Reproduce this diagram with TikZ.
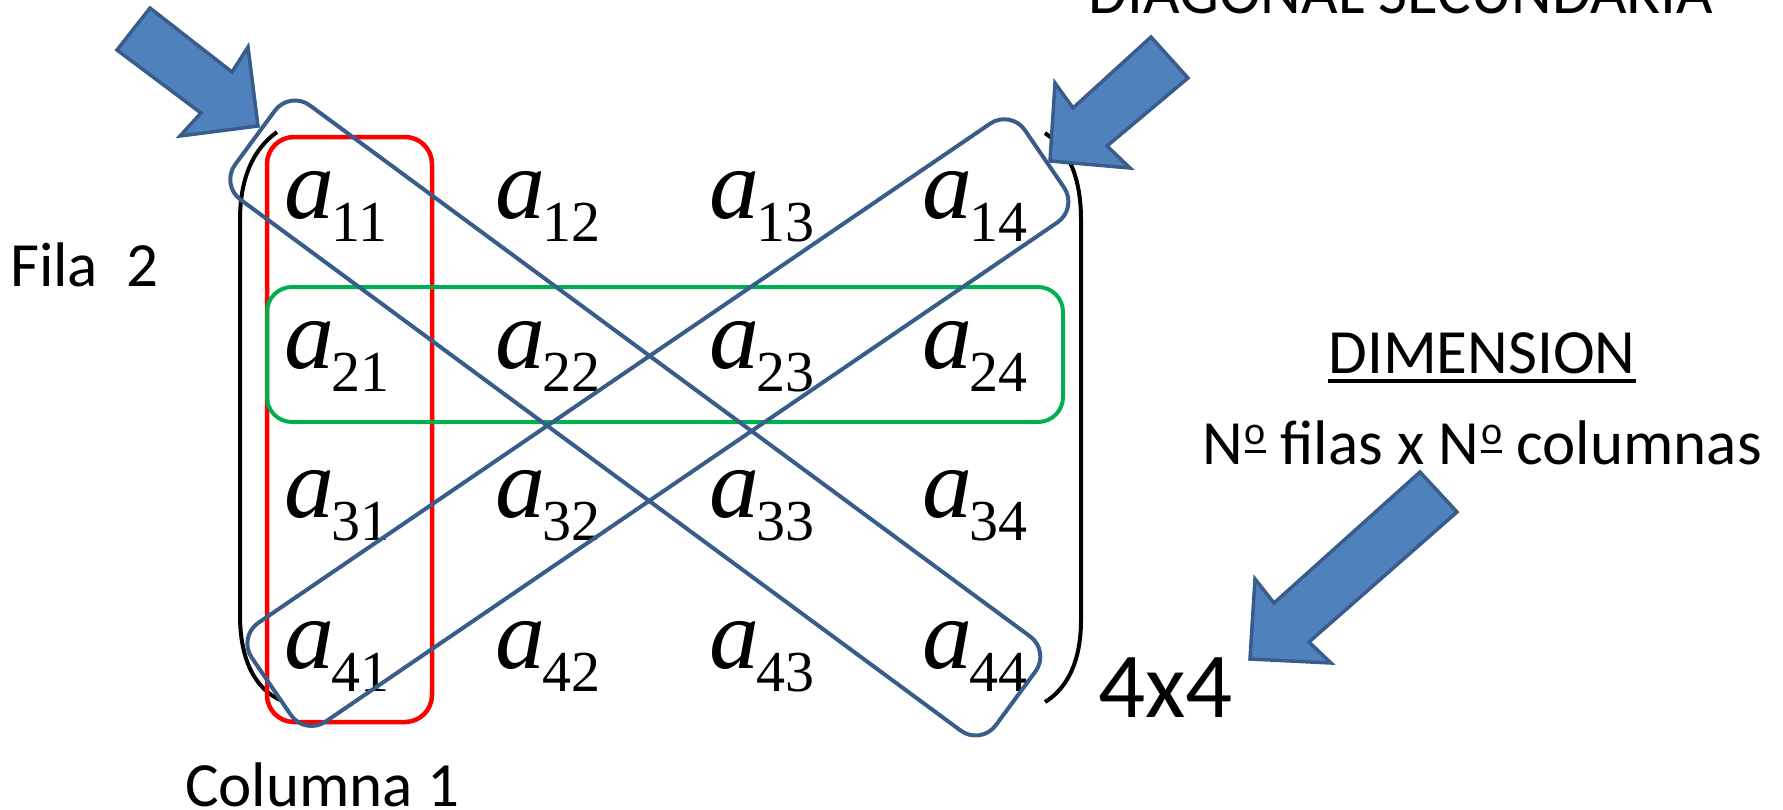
\documentclass[tikz,border=0pt]{standalone}
\usepackage{fontspec}
\newfontfamily\sansf{Carlito}
\newfontfamily\mxserif{Liberation Serif}
\definecolor{arrowfill}{HTML}{4F81BD}
\definecolor{arrowline}{HTML}{385D8A}
\definecolor{boxred}{HTML}{FF0000}
\definecolor{boxgreen}{HTML}{00B050}
\newcommand\mentry[2]{{\mxserif\fontsize{100}{100}\selectfont\itshape a}\kern-3pt\raisebox{-23pt}{\mxserif\fontsize{58}{58}\selectfont #1#2}}
\newcommand\ordm{\kern2pt\raisebox{11pt}{\vbox{\hbox{\sansf\fontsize{40}{40}\selectfont o}\kern5pt\hrule height 3.5pt}}}
\begin{document}
\begin{tikzpicture}[x=1pt,y=-1pt,
  entry/.style={anchor=base west,inner sep=0pt},
  sans/.style={inner sep=0pt,font=\sansf\fontsize{63}{63}\selectfont},
  bigsans/.style={inner sep=0pt,font=\sansf\fontsize{93}{93}\selectfont},
  paren/.style={line width=4pt,black},
  redframe/.style={draw=boxred,line width=4.5pt,rounded corners=27pt,inner sep=0pt,minimum width=165pt,minimum height=585pt},
  greenframe/.style={draw=boxgreen,line width=4pt,rounded corners=25pt,inner sep=0pt,minimum width=796pt,minimum height=135pt},
  diagframe/.style={draw=arrowline,line width=4pt,rounded corners=25pt,inner sep=0pt},
  blockarrow/.style={fill=arrowfill,draw=arrowline,line width=3.5pt,line join=miter}]
\useasboundingbox (0,0) rectangle (1783,809);
% parentheses
\draw[paren] (277,132) .. controls (252,150) and (240,180) .. (240,220) -- (240,615) .. controls (240,660) and (255,688) .. (280,700);
\draw[paren] (1045,133) .. controls (1070,150) and (1081,180) .. (1081,220) -- (1081,620) .. controls (1081,660) and (1068,688) .. (1045,702);
% entries
\node[entry] (a11) at (284,218) {\mentry{1}{1}};
\node[entry] (a12) at (495,218) {\mentry{1}{2}};
\node[entry] (a13) at (709,218) {\mentry{1}{3}};
\node[entry] (a14) at (922,218) {\mentry{1}{4}};
\node[entry] (a21) at (284,368) {\mentry{2}{1}};
\node[entry] (a22) at (495,368) {\mentry{2}{2}};
\node[entry] (a23) at (709,368) {\mentry{2}{3}};
\node[entry] (a24) at (922,368) {\mentry{2}{4}};
\node[entry] (a31) at (284,517) {\mentry{3}{1}};
\node[entry] (a32) at (495,517) {\mentry{3}{2}};
\node[entry] (a33) at (709,517) {\mentry{3}{3}};
\node[entry] (a34) at (922,517) {\mentry{3}{4}};
\node[entry] (a41) at (284,668) {\mentry{4}{1}};
\node[entry] (a42) at (495,668) {\mentry{4}{2}};
\node[entry] (a43) at (709,668) {\mentry{4}{3}};
\node[entry] (a44) at (922,668) {\mentry{4}{4}};
% frames
\node[redframe] (col1box) at (349.5,429.5) {};
\node[greenframe] (row2box) at (665,354.5) {};
\node[diagframe,minimum width=945pt,minimum height=117pt,rotate=-36.4] (maindiag) at (635.3,418) {};
\node[diagframe,minimum width=936pt,minimum height=119.5pt,rotate=34.3] (secdiag) at (657.9,422.6) {};
% texts
\node[sans,anchor=base] (diag2) at (1401,13) {DIAGONAL SECUNDARIA};
\node[sans,anchor=base west] (fila) at (10,286) {Fila~~2};
\node[sans,anchor=base west] (col) at (185,806) {Columna 1};
\node[sans,anchor=base] (dim) at (1482,373) {DIMENSION};
\draw[line width=4pt] ([yshift=-8pt]dim.base west) -- ([yshift=-8pt]dim.base east);
\node[sans,anchor=base] (nf) at (1482,464) {N\ordm{} filas x N\ordm{} columnas};
\node[bigsans,anchor=base west] (four) at (1098,717) {4x4};
% block arrows
\draw[blockarrow] (150,8) -- (232,72) -- (248,47) -- (258,126) -- (180,136) -- (201,113) -- (117,50) -- cycle;
\draw[blockarrow] (1151,37) -- (1188,78) -- (1107,146) -- (1130,168) -- (1050,161) -- (1055,83) -- (1073,108) -- cycle;
\draw[blockarrow] (1420,472) -- (1457,512) -- (1309,642) -- (1331,663) -- (1250,659) -- (1255,579) -- (1274,603) -- cycle;
\end{tikzpicture}
\end{document}
